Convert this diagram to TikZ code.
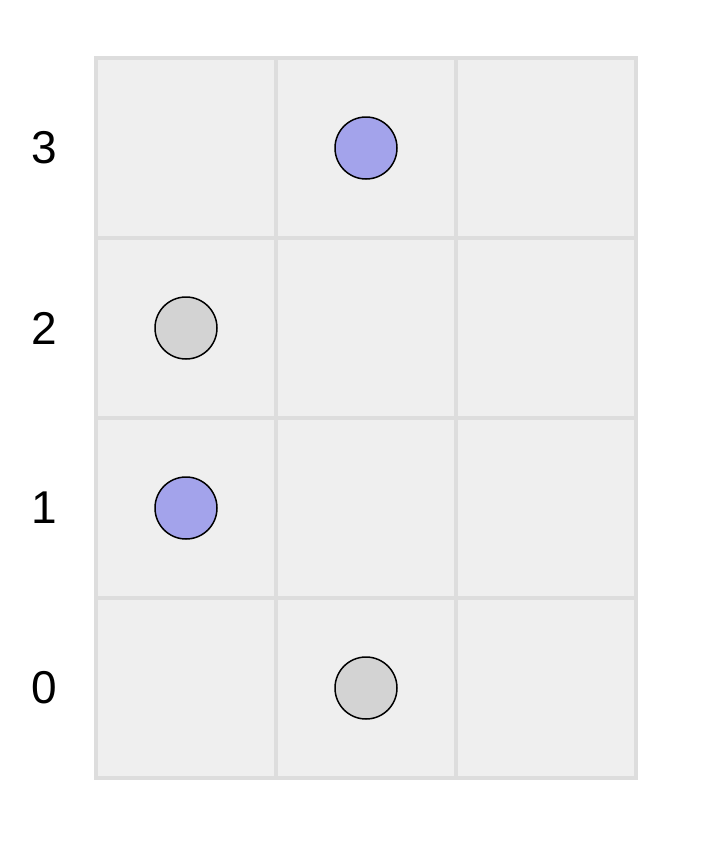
\documentclass[tikz,border=0pt]{standalone}
\usepackage{fontspec}
\setmainfont{Liberation Sans}
\definecolor{cellfill}{HTML}{EFEFEF}
\definecolor{cellline}{HTML}{DDDDDD}
\definecolor{bluedot}{HTML}{A3A3EB}
\definecolor{greydot}{HTML}{D3D3D3}
\tikzset{
  cell/.style={draw=cellline, fill=cellfill, line width=4pt, minimum size=180pt, inner sep=0pt},
  dot/.style={circle, draw=black, line width=1.5pt, minimum size=62pt, inner sep=0pt},
  rowlabel/.style={font=\fontsize{46}{54}\selectfont, inner sep=0pt}
}
\begin{document}
\begin{tikzpicture}[x=1pt,y=-1pt]
\useasboundingbox (0,0) rectangle (702,852);
\node[cell] (a3) at (186,148) {};
\node[cell] (b3) at (366,148) {};
\node[cell] (c3) at (546,148) {};
\node[cell] (a2) at (186,328) {};
\node[cell] (b2) at (366,328) {};
\node[cell] (c2) at (546,328) {};
\node[cell] (a1) at (186,508) {};
\node[cell] (b1) at (366,508) {};
\node[cell] (c1) at (546,508) {};
\node[cell] (a0) at (186,688) {};
\node[cell] (b0) at (366,688) {};
\node[cell] (c0) at (546,688) {};
\node[rowlabel] (r3) at (44,148) {3};
\node[rowlabel] (r2) at (44,328) {2};
\node[rowlabel] (r1) at (44,508) {1};
\node[rowlabel] (r0) at (44,688) {0};
\node[dot, fill=bluedot] (p3) at (b3.center) {};
\node[dot, fill=greydot] (p2) at (a2.center) {};
\node[dot, fill=bluedot] (p1) at (a1.center) {};
\node[dot, fill=greydot] (p0) at (b0.center) {};
\end{tikzpicture}
\end{document}
